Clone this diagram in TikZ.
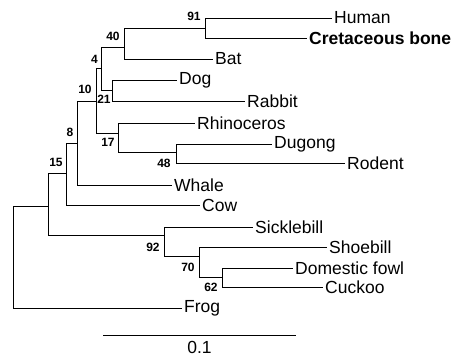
\documentclass[tikz,border=0pt]{standalone}
\usepackage{fontspec}
\setmainfont{Liberation Sans}
\usetikzlibrary{calc,positioning}
\tikzset{
  taxon/.style={anchor=west,inner sep=2pt,font=\fontsize{17.5}{20}\selectfont},
  boot/.style={inner sep=0pt,font=\fontsize{12}{14}\selectfont\bfseries},
  branch/.style={line width=0.8pt}
}

\begin{document}
\begin{tikzpicture}[x=1pt,y=-1pt]
\useasboundingbox (0,0) rectangle (461,359);
% internal nodes: x of the vertical, y where the parent joins
\coordinate (root) at (13,206);
\coordinate (nA)  at (48,206);
\coordinate (n15) at (66,173);
\coordinate (n8)  at (77,143);
\coordinate (n10) at (96,101);
\coordinate (n4)  at (101,68);
\coordinate (n40) at (124,47);
\coordinate (n91) at (205,28);
\coordinate (n21) at (112,90);
\coordinate (n17) at (118,133);
\coordinate (n48) at (176,152);
\coordinate (n92) at (164,235);
\coordinate (n70) at (199,256);
\coordinate (n62) at (222,277);
% taxa
\node[taxon] (human)  at (332,18)  {Human};
\node[taxon,font=\fontsize{17.5}{20}\selectfont\bfseries] (bone) at (307,38) {Cretaceous bone};
\node[taxon] (bat)    at (213,59)  {Bat};
\node[taxon] (dog)    at (177,80)  {Dog};
\node[taxon] (rabbit) at (245,101) {Rabbit};
\node[taxon] (rhino)  at (195,123) {Rhinoceros};
\node[taxon] (dugong) at (272,144) {Dugong};
\node[taxon] (rodent) at (345,163) {Rodent};
\node[taxon] (whale)  at (172,185) {Whale};
\node[taxon] (cow)    at (200,205) {Cow};
\node[taxon] (sickle) at (253,227) {Sicklebill};
\node[taxon] (shoe)   at (327,247) {Shoebill};
\node[taxon] (fowl)   at (293,268) {Domestic fowl};
\node[taxon] (cuckoo) at (323,287) {Cuckoo};
\node[taxon] (frog)   at (182,308) {Frog};
% branches
\foreach \p/\c in {root/nA,root/frog.west,nA/n15,nA/n92,n15/n8,n15/cow.west,
  n8/n10,n8/whale.west,n10/n4,n10/n17,n4/n40,n4/n21,n40/n91,n40/bat.west,
  n91/human.west,n91/bone.west,n21/dog.west,n21/rabbit.west,n17/rhino.west,
  n17/n48,n48/dugong.west,n48/rodent.west,n92/sickle.west,n92/n70,
  n70/shoe.west,n70/n62,n62/fowl.west,n62/cuckoo.west}
  {\draw[branch] (\p) |- (\c);}
% bootstrap values
\node[boot] (b91) at (194,16.5) {91};
\node[boot] (b40) at (113,36) {40};
\node[boot] (b4)  at (94.5,59) {4};
\node[boot] (b10) at (85,89) {10};
\node[boot] (b21) at (104,99.5) {21};
\node[boot] (b8)  at (70,132) {8};
\node[boot] (b17) at (108,142.5) {17};
\node[boot] (b48) at (164,163.5) {48};
\node[boot] (b15) at (56,162) {15};
\node[boot] (b92) at (153,247) {92};
\node[boot] (b70) at (188,267) {70};
\node[boot] (b62) at (211,287.5) {62};
% scale bar
\coordinate (sb1) at (103,335);
\coordinate (sb2) at (296,335);
\draw[branch] (sb1) -- (sb2);
\node[font=\fontsize{17.5}{20}\selectfont,below=3pt of $(sb1)!0.5!(sb2)$] (sblab) {0.1};
\end{tikzpicture}
\end{document}
